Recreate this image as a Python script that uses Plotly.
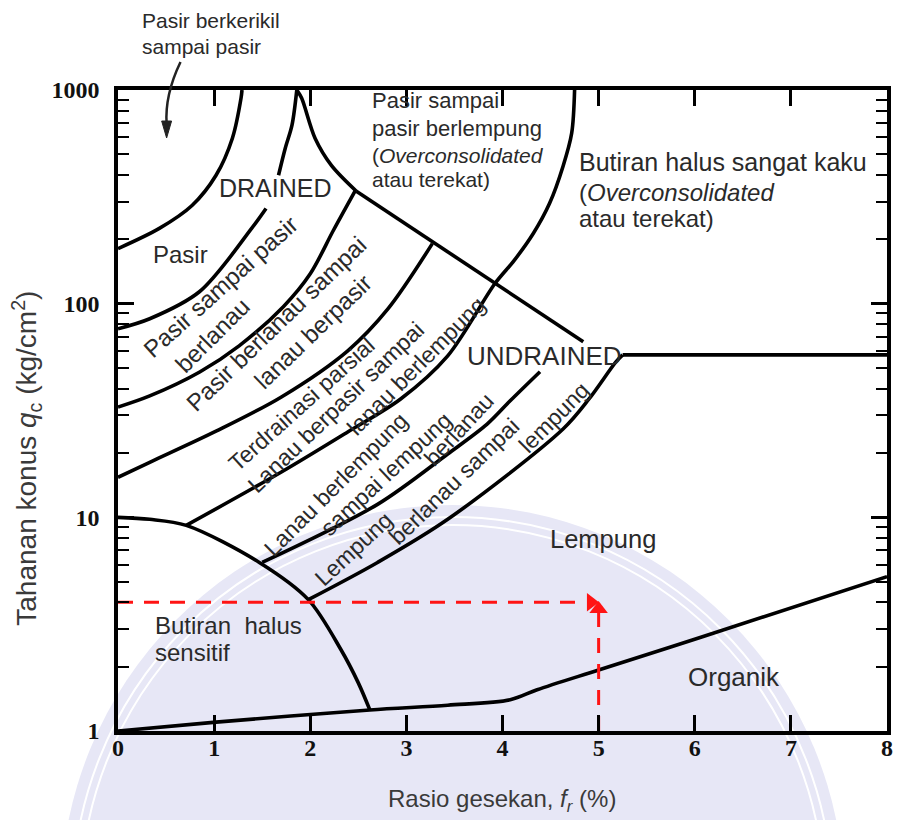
import numpy as np
import plotly.graph_objects as go

# ---------------- data ----------------
# boundary curves: friction ratio fr (%) vs cone resistance qc (kg/cm2)
curve_a_fr = [0, 0.43, 0.77, 1.02, 1.19, 1.28, 1.29]
curve_a_qc = [181, 225, 288, 399, 595, 917, 1000]

curve_b_lo_fr = [0, 0.33, 0.85, 1.39, 1.54]
curve_b_lo_qc = [76.3, 85, 114, 225, 279]
curve_b_up_fr = [1.67, 1.74, 1.81, 1.86]
curve_b_up_qc = [399, 534, 685, 1000]

curve_c_fr = [1.86, 1.91, 2.05, 2.22, 2.48]
curve_c_qc = [1000, 917, 595, 444, 336]
line_c_fr = [2.48, 4.84]
line_c_qc = [336, 66.3]

curve_d_fr = [0, 0.33, 0.85, 1.26, 1.72, 2.00, 2.24, 2.47]
curve_d_qc = [32.8, 37.0, 47.9, 63.5, 96.8, 138, 220, 339]

curve_e2_fr = [0, 0.33, 1.02, 1.70, 2.39, 2.81, 3.27]
curve_e2_qc = [15.4, 18.1, 25.3, 36.6, 60.2, 94.8, 191]

curve_f_fr = [0.71, 1.70, 2.39, 2.94, 3.43, 3.92, 4.12, 4.32, 4.49, 4.63, 4.72, 4.75]
curve_f_qc = [9.17, 16.3, 25.1, 35.8, 57, 124, 159, 213, 295, 440, 629, 1000]

curve_s_fr = [0, 0.33, 0.71, 1.47, 1.98, 2.32, 2.50, 2.62]
curve_s_qc = [10, 9.79, 9.17, 6.15, 4.12, 2.40, 1.68, 1.255]

curve_l1_fr = [1.50, 2.70, 3.43, 3.84, 4.08, 4.39]
curve_l1_qc = [6.15, 11.5, 19.8, 27.3, 35.1, 48]

curve_l2_fr = [1.98, 2.70, 3.43, 4.63, 4.90, 5.18, 5.25]
curve_l2_qc = [4.12, 6.15, 9.79, 25.9, 35.8, 53.4, 57.6]

curve_o_fr = [0, 1.02, 2.62, 3.43, 4.08, 4.36, 5.0, 6.08, 8.0]
curve_o_qc = [1, 1.10, 1.255, 1.32, 1.40, 1.56, 1.93, 2.76, 5.28]

undrained_fr = [5.25, 8.0]
undrained_qc = [57.6, 57.6]

# red reading lines
red_fr = 5
red_qc = 4

x_ticks = [0, 1, 2, 3, 4, 5, 6, 7, 8]
y_ticks = [1, 10, 100, 1000]
y_tick_labels = ["1", "10", "100", "1000"]
y_minor = [m * 10 ** d for d in range(3) for m in range(2, 10)]

# ---------------- figure ----------------
W, H = 898, 820
ML, MR, MT, MB = 118, 5, 90, 89
PW, PH = W - ML - MR, H - MT - MB


def px(xp):
    return (xp - ML) / PW


def py(yp):
    return (H - MB - yp) / PH


fig = go.Figure()

LINE = dict(color="black", width=3.6)


def add_curve(xs, ys, shape="spline"):
    fig.add_trace(go.Scatter(x=xs, y=ys, mode="lines",
                             line=dict(LINE, shape=shape, smoothing=0.9),
                             hoverinfo="skip", showlegend=False))


add_curve(curve_a_fr, curve_a_qc)
add_curve(curve_b_lo_fr, curve_b_lo_qc)
add_curve(curve_b_up_fr, curve_b_up_qc)
add_curve(curve_c_fr, curve_c_qc)
add_curve(line_c_fr, line_c_qc, "linear")
add_curve(curve_d_fr, curve_d_qc)
add_curve(curve_e2_fr, curve_e2_qc)
add_curve(curve_f_fr, curve_f_qc)
add_curve(curve_s_fr, curve_s_qc)
add_curve(curve_l1_fr, curve_l1_qc)
add_curve(curve_l2_fr, curve_l2_qc)
add_curve(curve_o_fr, curve_o_qc)
add_curve(undrained_fr, undrained_qc, "linear")

RED = "#ff1414"
fig.add_trace(go.Scatter(x=[0, red_fr - 0.14], y=[red_qc, red_qc], mode="lines",
                         line=dict(color=RED, width=3, dash="15px,11px"),
                         hoverinfo="skip", showlegend=False))
fig.add_trace(go.Scatter(x=[red_fr, red_fr], y=[1, red_qc * 0.9], mode="lines",
                         line=dict(color=RED, width=3, dash="15px,11px"),
                         hoverinfo="skip", showlegend=False))
fig.add_trace(go.Scatter(x=[red_fr - 0.08], y=[red_qc], mode="markers",
                         marker=dict(symbol="triangle-right", size=16, color=RED),
                         hoverinfo="skip", showlegend=False))
fig.add_trace(go.Scatter(x=[red_fr], y=[red_qc * 0.93], mode="markers",
                         marker=dict(symbol="triangle-up", size=16, color=RED),
                         hoverinfo="skip", showlegend=False))

TXT = "#2a2a2a"
SANS = "Liberation Sans, Arial, sans-serif"


def lab(text, x, qc, size=24, angle=0, anchor="center"):
    fig.add_annotation(x=x, y=np.log10(qc), xref="x", yref="y", text=text,
                       showarrow=False, textangle=angle, xanchor=anchor,
                       yanchor="middle", font=dict(family=SANS, size=size, color=TXT))


lab("DRAINED", 1.64, 347, 25)
lab("Pasir", 0.65, 170, 24)
lab("Pasir sampai pasir", 1.07, 120, 24, -42)
lab("berlanau", 0.98, 70.8, 24, -45)
lab("Pasir berlanau sampai", 1.65, 80.5, 24, -44)
lab("lanau berpasir", 2.03, 74, 24, -44)
lab("Terdrainasi parsial", 1.91, 34, 23, -42)
lab("Lanau berpasir sampai", 2.27, 32.8, 23, -44)
lab("lanau berlempung", 3.10, 51.2, 23, -45)
lab("Lanau berlempung", 2.27, 14.3, 23, -45)
lab("sampai lempung", 2.79, 15.9, 23, -43)
lab("berlanau", 3.55, 25.9, 23, -47)
lab("Lempung", 2.45, 7.08, 23, -43)
lab("berlanau sampai", 3.50, 14.8, 23, -44)
lab("lempung", 4.54, 29.4, 23, -45)
lab("UNDRAINED", 4.44, 57.0, 26)
lab("Lempung", 5.05, 7.89, 25.5)
lab("Organik", 6.41, 1.79, 26)
lab("Butiran  halus", 0.36, 3.11, 24, anchor="left")
lab("sensitif", 0.36, 2.32, 24, anchor="left")
lab("Pasir sampai", 2.62, 897, 22, anchor="left")
lab("pasir berlempung", 2.62, 664, 22, anchor="left")
lab("(<i>Overconsolidated</i>", 2.62, 495, 21, anchor="left")
lab("atau terekat)", 2.62, 382, 21, anchor="left")
lab("Butiran halus sangat kaku", 4.77, 458, 25, anchor="left")
lab("(<i>Overconsolidated</i>", 4.77, 332, 24, anchor="left")
lab("atau terekat)", 4.77, 250, 24, anchor="left")

# label above the plot frame (paper coordinates)
for t, yy in (("Pasir berkerikil", 21), ("sampai pasir", 47)):
    fig.add_annotation(x=px(140), y=py(yy), xref="paper", yref="paper", text=t,
                       showarrow=False, xanchor="left", yanchor="middle",
                       font=dict(family=SANS, size=21, color=TXT))

# axis titles
fig.add_annotation(x=px(505), y=py(800), xref="paper", yref="paper",
                   xanchor="center", yanchor="middle",
                   text="Rasio gesekan, <i>f<sub>r</sub></i> (%)", showarrow=False,
                   font=dict(family=SANS, size=24, color="#3a3a3a"))
fig.add_annotation(x=px(26), y=py(458), xref="paper", yref="paper", textangle=-90,
                   xanchor="center", yanchor="middle",
                   text="Tahanan konus <i>q</i><sub>c</sub> (kg/cm<sup>2</sup>)", showarrow=False,
                   font=dict(family=SANS, size=28, color="#3a3a3a"))

# curved pointer for "Pasir berkerikil sampai pasir"
fig.add_shape(type="path", xref="paper", yref="paper",
              path=f"M {px(181)} {py(62)} Q {px(165)} {py(95)} {px(167)} {py(124)}",
              line=dict(color="#222", width=2.5))
fig.add_shape(type="path", xref="paper", yref="paper",
              path=f"M {px(167)} {py(138)} L {px(162)} {py(121)} L {px(172)} {py(121)} Z",
              fillcolor="#222", line=dict(color="#222", width=1))

# faint watermark seal
cx, cy, r = 455, 900, 395
fig.add_shape(type="circle", xref="paper", yref="paper", layer="below",
              x0=px(cx - r), x1=px(cx + r), y0=py(cy + r), y1=py(cy - r),
              fillcolor="#e7e7f6", line=dict(width=0))
for dr in (12, 20):
    fig.add_shape(type="circle", xref="paper", yref="paper", layer="below",
                  x0=px(cx - r + dr), x1=px(cx + r - dr), y0=py(cy + r - dr), y1=py(cy - r + dr),
                  line=dict(color="white", width=2))

TICKFONT = dict(family="Liberation Serif, Times New Roman, serif", size=24,
                color="#111", weight="bold")

fig.update_xaxes(range=[0, 8], tickvals=x_ticks, ticks="inside", ticklen=16, tickwidth=2.5,
                 tickcolor="black", showline=True, linewidth=3.5, linecolor="black",
                 mirror="allticks", showgrid=False, zeroline=False, tickfont=TICKFONT,
                 ticklabelstandoff=-8)
fig.update_yaxes(type="log", range=[0, 3], tickvals=y_ticks, ticktext=y_tick_labels,
                 ticks="inside", ticklen=16, tickwidth=2.5, tickcolor="black",
                 showline=True, linewidth=3.5, linecolor="black", mirror="allticks",
                 showgrid=False, zeroline=False, tickfont=TICKFONT, ticklabelstandoff=10,
                 minor=dict(tickvals=y_minor, ticks="inside", ticklen=11, tickwidth=2,
                            tickcolor="black", showgrid=False))

fig.update_layout(width=W, height=H, margin=dict(l=ML, r=MR, t=MT, b=MB),
                  paper_bgcolor="white", plot_bgcolor="rgba(0,0,0,0)", showlegend=False)

fig.write_html("out.html", config={"displayModeBar": False},
               post_script="document.body.style.margin='0px';")
